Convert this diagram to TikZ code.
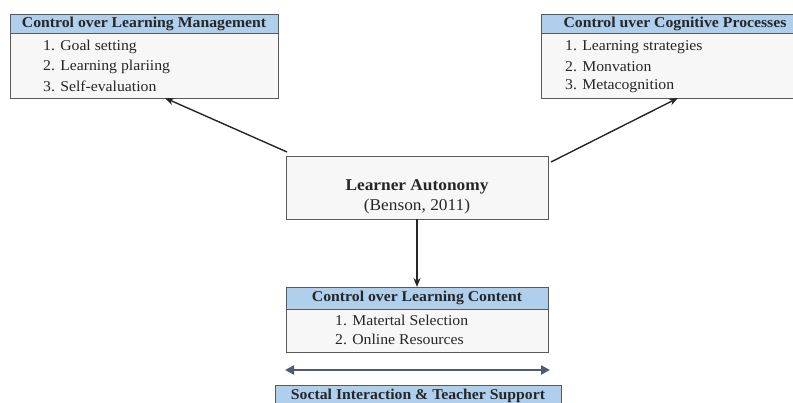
\documentclass[tikz,border=0pt]{standalone}
\usepackage{fontspec}
\setmainfont[FakeStretch=1.05]{Liberation Serif}
\usetikzlibrary{arrows.meta,shadows}
\definecolor{boxline}{HTML}{5A5A5A}
\definecolor{hdrfill}{HTML}{B0CFEC}
\definecolor{bodyfill}{HTML}{F7F7F7}
\definecolor{dblarrow}{HTML}{4F5A76}
\tikzset{
  bodybox/.style={draw=boxline, line width=0.9pt, fill=bodyfill, inner sep=0pt, outer sep=0pt, anchor=north west,
    drop shadow={shadow xshift=1pt, shadow yshift=-1.2pt, fill=black!35, opacity=0.6}},
  hdrbox/.style={draw=boxline, line width=0.9pt, fill=hdrfill, inner sep=0pt, outer sep=0pt, anchor=north west},
  hdrtext/.style={font=\fontsize{15}{17}\selectfont\bfseries, text=black!85, inner sep=0pt},
  itemtext/.style={font=\fontsize{15}{17}\selectfont, text=black!85, inner sep=0pt, anchor=west},
  conn/.style={line width=1.4pt, black!85, -{Stealth[length=9pt,width=7pt]}},
}
\begin{document}
\begin{tikzpicture}[x=1pt,y=-1pt]
\useasboundingbox (0,0) rectangle (793,403);
\clip (0,0) rectangle (793,403);
% left box
\node[bodybox, minimum width=268pt, minimum height=84pt] (lm) at (10,14) {};
\node[hdrbox, minimum width=268pt, minimum height=19.5pt] (lmh) at (10,14) {};
\node[hdrtext] (lmt) at (lmh.center) {Control over Learning Management};
\node[itemtext] (lm1) at (43,47) {1. Goal setting};
\node[itemtext] (lm2) at (43,67) {2. Learning plariing};
\node[itemtext] (lm3) at (43,86) {3. Self-evaluation};
% right box
\node[bodybox, minimum width=268pt, minimum height=84pt] (cp) at (541,14) {};
\node[hdrbox, minimum width=268pt, minimum height=19.5pt] (cph) at (541,14) {};
\node[hdrtext] (cpt) at (cph.center) {Control uver Cognitive Processes};
\node[itemtext] (cp1) at (565,47) {1. Learning strategies};
\node[itemtext] (cp2) at (565,67) {2. Monvation};
\node[itemtext] (cp3) at (565,86) {3. Metacognition};
% center box
\node[bodybox, minimum width=262pt, minimum height=63pt] (la) at (286,156) {};
\node[font=\fontsize{16.5}{19}\selectfont\bfseries, text=black!85, inner sep=0pt] (lat) at (417,187) {Learner Autonomy};
\node[font=\fontsize{16.5}{19}\selectfont, text=black!85, inner sep=0pt] (lab) at (417,207) {(Benson, 2011)};
% bottom box
\node[bodybox, minimum width=262pt, minimum height=65pt] (lc) at (286,287) {};
\node[hdrbox, minimum width=262pt, minimum height=22pt] (lch) at (286,287) {};
\node[hdrtext] (lct) at (lch.center) {Control over Learning Content};
\node[itemtext] (lc1) at (335,320) {1. Matertal Selection};
\node[itemtext] (lc2) at (335,339) {2. Online Resources};
% social box
\node[hdrbox, minimum width=286pt, minimum height=30pt] (si) at (275,385) {};
\node[hdrtext] (sit) at (418,396) {Soctal Interaction \& Teacher Support};
% connectors
\coordinate (a1s) at (287,152);
\coordinate (a2s) at (551,162);
\draw[conn] (a1s) -- (lm.south -| 165,0);
\draw[conn] (a2s) -- (cp.south -| 678,0);
\draw[line width=2pt, black!85, -{Stealth[length=9pt,width=7pt]}] (la.south) -- (lc.north);
\coordinate (dl) at (285,370);
\coordinate (dr) at (550,370);
\draw[line width=2.6pt, dblarrow, {Triangle[length=9pt,width=9pt]}-{Triangle[length=9pt,width=9pt]}] (dl) -- (dr);
\end{tikzpicture}
\end{document}
